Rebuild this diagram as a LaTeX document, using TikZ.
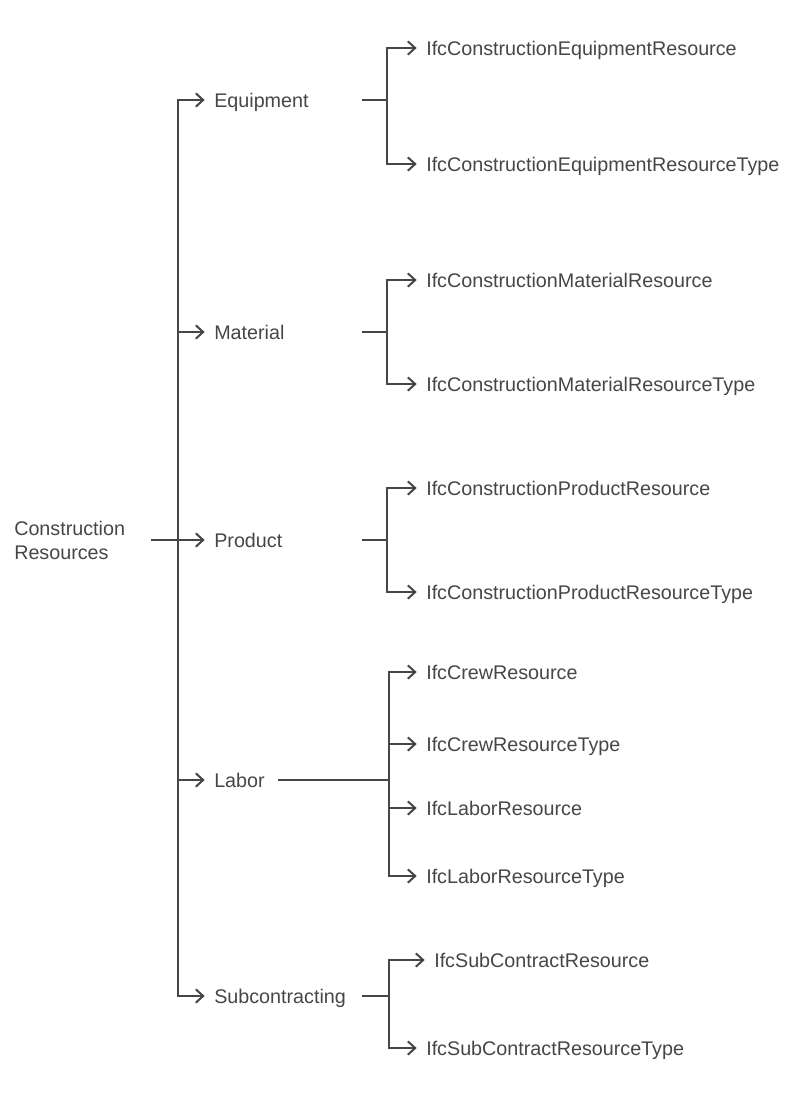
\documentclass[tikz,border=0pt]{standalone}
\usepackage{fontspec}
\setmainfont{Liberation Sans}
\usetikzlibrary{arrows.meta}

\definecolor{ink}{HTML}{464646}

\begin{document}
\begin{tikzpicture}[x=0.75pt,y=-0.75pt,
  line/.style={draw=ink,line width=1.5pt},
  arr/.style={line,-{Straight Barb[length=5.5pt,width=10pt,line width=1.5pt]},shorten >=7pt},
  lbl/.style={text=ink,font=\fontsize{14.8}{18}\selectfont,anchor=west,inner xsep=0pt,inner ysep=2pt},
  item/.style={lbl,text height=11.5pt,text depth=1pt}]
\useasboundingbox (0,0) rectangle (808,1096);

% root
\node[lbl,text width=102pt,align=left] (root) at (14,540) {Construction\\Resources};
\coordinate (tr) at (178,540);

% second level
\node[item,text width=110.25pt] (eq) at (214,100) {Equipment};
\node[item,text width=110.25pt] (ma) at (214,332) {Material};
\node[item,text width=110.25pt] (pr) at (214,540) {Product};
\node[item,text width=47.25pt] (la) at (214,780) {Labor};
\node[item,text width=110.25pt] (su) at (214,996) {Subcontracting};

% junctions
\coordinate (eqj) at (387,100);
\coordinate (maj) at (387,332);
\coordinate (prj) at (387,540);
\coordinate (laj) at (389,780);
\coordinate (suj) at (389,996);

% leaves
\node[item] (e1) at (426,48) {IfcConstructionEquipmentResource};
\node[item] (e2) at (426,164) {IfcConstructionEquipmentResourceType};
\node[item] (m1) at (426,280) {IfcConstructionMaterialResource};
\node[item] (m2) at (426,384) {IfcConstructionMaterialResourceType};
\node[item] (p1) at (426,488) {IfcConstructionProductResource};
\node[item] (p2) at (426,592) {IfcConstructionProductResourceType};
\node[item] (l1) at (426,672) {IfcCrewResource};
\node[item] (l2) at (426,744) {IfcCrewResourceType};
\node[item] (l3) at (426,808) {IfcLaborResource};
\node[item] (l4) at (426,876) {IfcLaborResourceType};
\node[item] (s1) at (434,960) {IfcSubContractResource};
\node[item] (s2) at (426,1048) {IfcSubContractResourceType};

% connectors
\draw[line] (root.east) -- (tr);
\foreach \n in {eq,ma,pr,la,su}
  \draw[arr] (tr) |- (\n.west);

\draw[line] (eq.east) -- (eqj);
\draw[line] (ma.east) -- (maj);
\draw[line] (pr.east) -- (prj);
\draw[line] (la.east) -- (laj);
\draw[line] (su.east) -- (suj);

\foreach \n in {e1,e2} \draw[arr] (eqj) |- (\n.west);
\foreach \n in {m1,m2} \draw[arr] (maj) |- (\n.west);
\foreach \n in {p1,p2} \draw[arr] (prj) |- (\n.west);
\foreach \n in {l1,l2,l3,l4} \draw[arr] (laj) |- (\n.west);
\foreach \n in {s1,s2} \draw[arr] (suj) |- (\n.west);

\end{tikzpicture}
\end{document}
